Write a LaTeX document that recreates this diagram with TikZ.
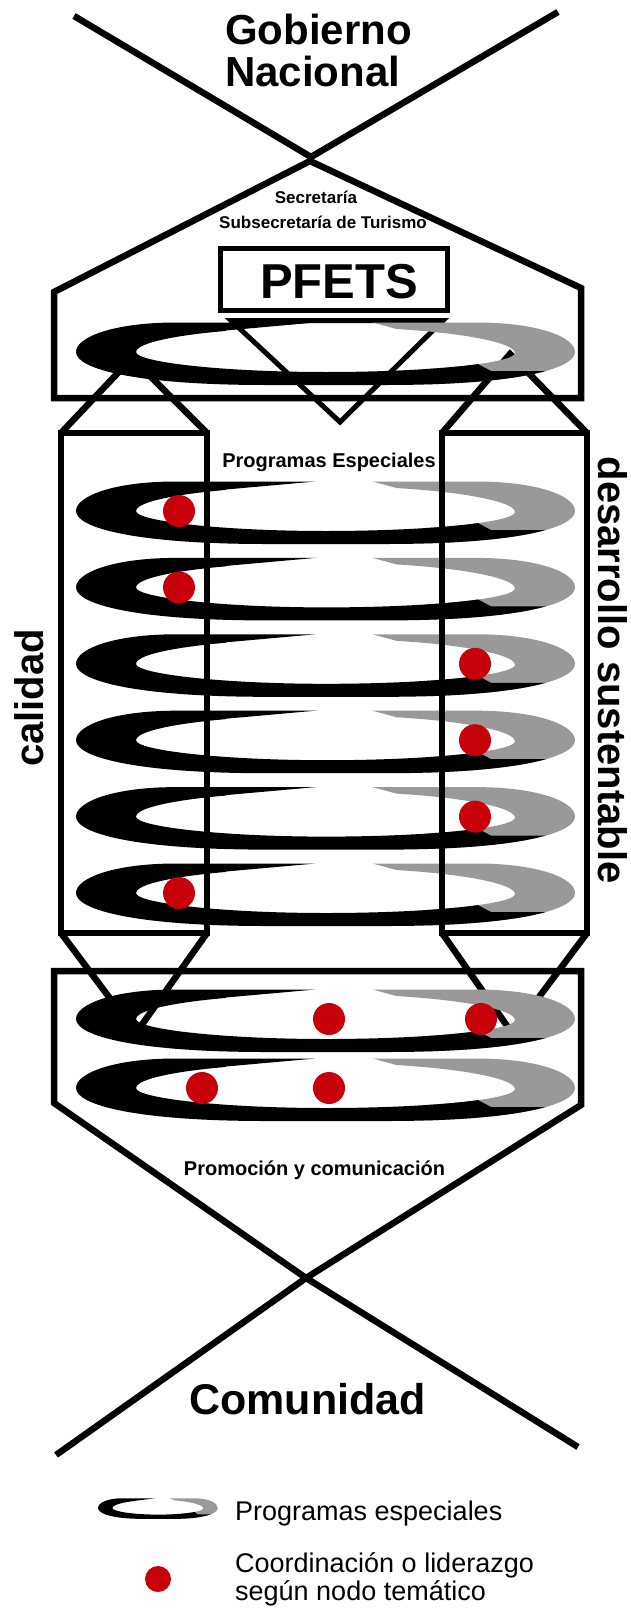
\documentclass[tikz,border=0pt]{standalone}
\usepackage{fontspec}
\setmainfont{Liberation Sans}
\definecolor{ringgray}{RGB}{153,153,153}
\definecolor{dotred}{RGB}{200,0,10}
\tikzset{
	heavy/.style={line width=6.5pt},
	txt/.style={inner sep=0pt, anchor=base},
	ringpath/.style={insert path={(-250,0) .. controls (-250,-15) and (-212,-29.5) .. (-150,-29.5) -- (150,-29.5) .. controls (212,-29.5) and (249,-15) .. (249,0) .. controls (249,17) and (190,33) .. (60,33) -- (-60,33) .. controls (-190,33) and (-250,17) .. cycle
		(-190,0) .. controls (-190,-13) and (-105,-25) .. (0,-25) .. controls (105,-25) and (189,-12) .. (189,1) .. controls (189,11) and (105,20) .. (0,20) .. controls (-105,20) and (-190,10) .. cycle}},
	spiral/.pic={
		\begin{scope}
			\clip (41,-31) -- (41,-45) -- (260,-45) -- (260,45) -- (100,45) -- (100,-15) -- cycle;
			\fill [ringgray, even odd rule, ringpath];
		\end{scope}
		\begin{scope}
			\clip (-260,-45) -- (-5,-45) -- (-5,-30) -- (-100,-21.5) -- (-100,3) -- (135,3) -- (165,19) -- (260,19) -- (260,45) -- (-260,45) -- cycle;
			\fill [black, even odd rule, ringpath];
		\end{scope}
	}
}

\begin{document}
\begin{tikzpicture}[x=1pt, y=-1pt]
	\useasboundingbox (0,0) rectangle (630,1608);
	\draw [heavy] (74,16) -- (311,157) -- (558,12);
	\draw [heavy] (54,398) -- (54,292) -- (310,161) -- (581,288) -- (581,398) -- cycle;
	\draw [line width=5pt] (231,320.5) -- (443,320.5) -- (340,422) -- cycle;
	\draw [heavy] (61,433) -- (132,358) -- (207,433);
	\draw [heavy] (442,433) -- (510,354) -- (587,433);
	\draw [heavy] (61,933) -- (136,1033) -- (207,933);
	\draw [heavy] (442,933) -- (512,1033) -- (587,933);
	\draw [heavy] (578,1447) -- (306,1278) -- (54,1103) -- (54,971) -- (581,971) -- (581,1105) -- (306,1278) -- (56,1455);

	\pic at (326,352) {spiral};
	\foreach \k in {0,...,5}
		\pic at (326,{511+76.4*\k}) {spiral};
	\pic at (326,1019) {spiral};
	\pic at (326,1088) {spiral};

	\draw [heavy] (61,433) rectangle (207,933);
	\draw [heavy] (442,433) rectangle (587,933);

	\foreach \x/\k in {179/0,179/1,475/2,475/3,475/4,179/5}
		\fill [dotred] (\x,{511+76.4*\k}) circle [radius=16];
	\fill [dotred] (329,1019) circle [radius=16];
	\fill [dotred] (481,1019) circle [radius=16];
	\fill [dotred] (202,1088) circle [radius=16];
	\fill [dotred] (329,1088) circle [radius=16];

	\node [txt, font=\bfseries\fontsize{42}{48}\selectfont, anchor=base west] (gob) at (225,45) {Gobierno};
	\node [txt, font=\bfseries\fontsize{42}{48}\selectfont, anchor=base west] (nac) at ([yshift=-42pt]gob.base west) {Nacional};
	\node [txt, font=\bfseries\fontsize{17}{20}\selectfont] (sec) at (316,204) {Secretaría};
	\node [txt, font=\bfseries\fontsize{17}{20}\selectfont] (subsec) at (323,229) {Subsecretaría de Turismo};
	\node [draw, line width=5pt, minimum width=227pt, minimum height=62pt, inner sep=0pt] (pfbox) at (334,279.5) {};
	\node [txt, font=\bfseries\fontsize{49}{56}\selectfont] (pfets) at (339,298) {PFETS};
	\node [txt, font=\bfseries\fontsize{20}{24}\selectfont] (progesp) at (329,467) {Programas Especiales};
	\node [txt, font=\bfseries\fontsize{40}{46}\selectfont, rotate=90] (calidad) at (43,698) {calidad};
	\node [txt, font=\bfseries\fontsize{40}{46}\selectfont, rotate=-90] (desarrollo) at (598,670) {desarrollo sustentable};
	\node [txt, font=\bfseries\fontsize{20}{24}\selectfont] (promo) at (314.5,1175) {Promoción y comunicación};
	\node [txt, font=\bfseries\fontsize{43}{50}\selectfont] (comunidad) at (307.5,1414) {Comunidad};

	\pic [xscale=0.24, yscale=0.33] at (158,1508) {spiral};
	\fill [dotred] (158,1579) circle [radius=13];
	\node [txt, font=\fontsize{27}{32}\selectfont, anchor=base west] (legring) at (235,1520) {Programas especiales};
	\node [txt, font=\fontsize{27}{32}\selectfont, anchor=base west] (legdot) at (235,1572) {Coordinación o liderazgo};
	\node [txt, font=\fontsize{27}{32}\selectfont, anchor=base west] (legdot2) at (235,1600) {según nodo temático};
\end{tikzpicture}
\end{document}
